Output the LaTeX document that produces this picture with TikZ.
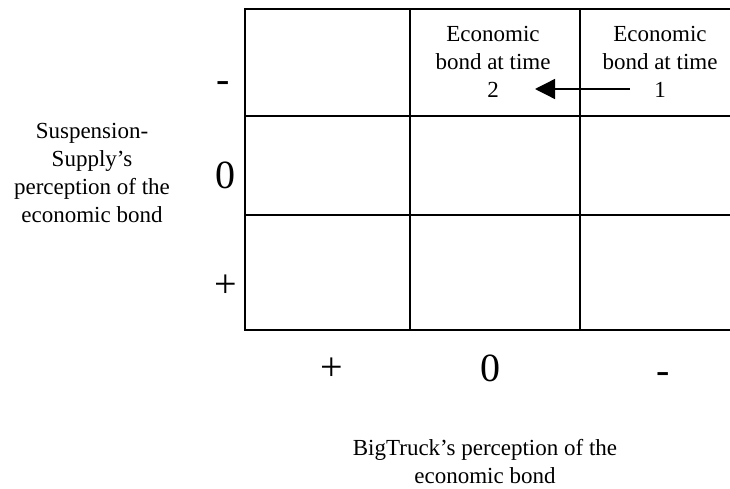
\documentclass[tikz,border=0pt]{standalone}
\usepackage{fontspec}
\setmainfont{Liberation Serif}
\usetikzlibrary{arrows.meta}
\begin{document}
\begin{tikzpicture}[x=1pt,y=-1pt,
  gridline/.style={line width=1.6pt, line cap=rect},
  txt/.style={font=\fontsize{23}{28}\selectfont, align=center, inner sep=0pt},
  big/.style={font=\fontsize{40}{44}\selectfont, inner sep=0pt},
  arr/.style={line width=1.3pt, -{Triangle[length=20pt,width=20pt]}}]
\useasboundingbox (0,0) rectangle (730,489);
% grid
\draw[gridline] (732,9) -- (245,9) -- (245,330) -- (732,330);
\draw[gridline] (247,116) -- (732,116);
\draw[gridline] (247,215) -- (732,215);
\draw[gridline] (410,9) -- (410,330);
\draw[gridline] (580,9) -- (580,330);
% cell texts
\node[txt, anchor=north] (c2) at (493,26) {Economic\\bond at time\\2};
\node[txt, anchor=north] (c3) at (660,26) {Economic\\bond at time\\1};
\coordinate (t1) at (630,89);
\coordinate (t2) at (535,89);
\draw[arr] (t1) -- (t2);
% left axis symbols
\node[big] (lm) at (223,87) {-};
\node[big] (l0) at (225,175) {0};
\node[big] (lp) at (226,286) {+};
% bottom axis symbols
\node[big] (bp) at (332,369) {+};
\node[big] (b0) at (490,368) {0};
\node[big] (bm) at (663,378) {-};
% axis labels
\node[txt, anchor=north] (ly) at (92,123) {Suspension-\\Supply’s\\perception of the\\economic bond};
\node[txt, anchor=north] (lx) at (485,439) {BigTruck’s perception of the\\economic bond};
\end{tikzpicture}
\end{document}
